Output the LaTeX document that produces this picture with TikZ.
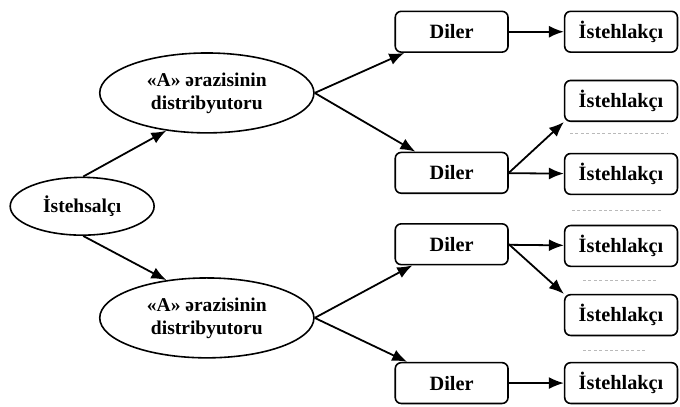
\documentclass[tikz,border=0pt]{standalone}
\usepackage{fontspec}
\setmainfont{Liberation Serif}
\usetikzlibrary{arrows.meta,shapes.geometric}
\tikzstyle{E}+=[draw,ellipse,line width=0.8pt,inner sep=0pt,align=center,font=\fontsize{9.8}{11.5}\selectfont\bfseries]
\tikzstyle{R}+=[draw,rectangle,rounded corners=3pt,line width=0.8pt,minimum width=1.99cm,minimum height=0.72cm,inner sep=0pt,font=\fontsize{10.2}{11.5}\selectfont\bfseries]
\tikzstyle{L}+=[line width=0.9pt,-{Latex[length=7.5pt,width=6pt]}]
\tikzstyle{G}+=[gray!55,very thin,dash pattern=on 1.5pt off 1.2pt]

\begin{document}
\begin{tikzpicture}
        \useasboundingbox (0,0) rectangle (12,-7.165);

        \node[E,minimum width=2.54cm,minimum height=1.02cm] (ist) at (1.45,-3.64) {İstehsalçı};
        \node[E,minimum width=3.78cm,minimum height=1.41cm] (dist1) at (3.65,-1.64) {«A» ərazisinin\\distribyutoru};
        \node[E,minimum width=3.78cm,minimum height=1.41cm] (dist2) at (3.65,-5.61) {«A» ərazisinin\\distribyutoru};

        \node[R] (d1) at (7.97,-0.56) {Diler};
        \node[R] (d2) at (7.97,-3.05) {Diler};
        \node[R] (d3) at (7.97,-4.31) {Diler};
        \node[R] (d4) at (7.97,-6.76) {Diler};

        \node[R] (c1) at (10.96,-0.56) {İstehlakçı};
        \node[R] (c2) at (10.96,-1.78) {İstehlakçı};
        \node[R] (c3) at (10.96,-3.07) {İstehlakçı};
        \node[R] (c4) at (10.96,-4.34) {İstehlakçı};
        \node[R] (c5) at (10.96,-5.56) {İstehlakçı};
        \node[R] (c6) at (10.96,-6.76) {İstehlakçı};

        \draw[L] (ist.88) -- (dist1.223);
        \draw[L] (ist.-88) -- (dist2.137);
        \draw[L] (dist1.east) -- (d1);
        \draw[L] (dist1.east) -- (d2);
        \draw[L] (dist2.east) -- (d3);
        \draw[L] (dist2.east) -- (d4);
        \draw[L] (d1) -- (c1);
        \draw[L] (d2.east) -- (c2.south west);
        \draw[L] (d2) -- (c3);
        \draw[L] (d3) -- (c4);
        \draw[L] (d3.east) -- (c5.north west);
        \draw[L] (d4) -- (c6);

        % faint marks under the boxes
        \draw[G] (10.06,-2.35) -- (11.77,-2.35);
        \draw[G] (10.09,-3.71) -- (11.70,-3.71);
        \draw[G] (10.29,-4.94) -- (11.61,-4.94);
        \draw[G] (10.29,-6.18) -- (11.42,-6.18);

    \end{tikzpicture}
\end{document}
